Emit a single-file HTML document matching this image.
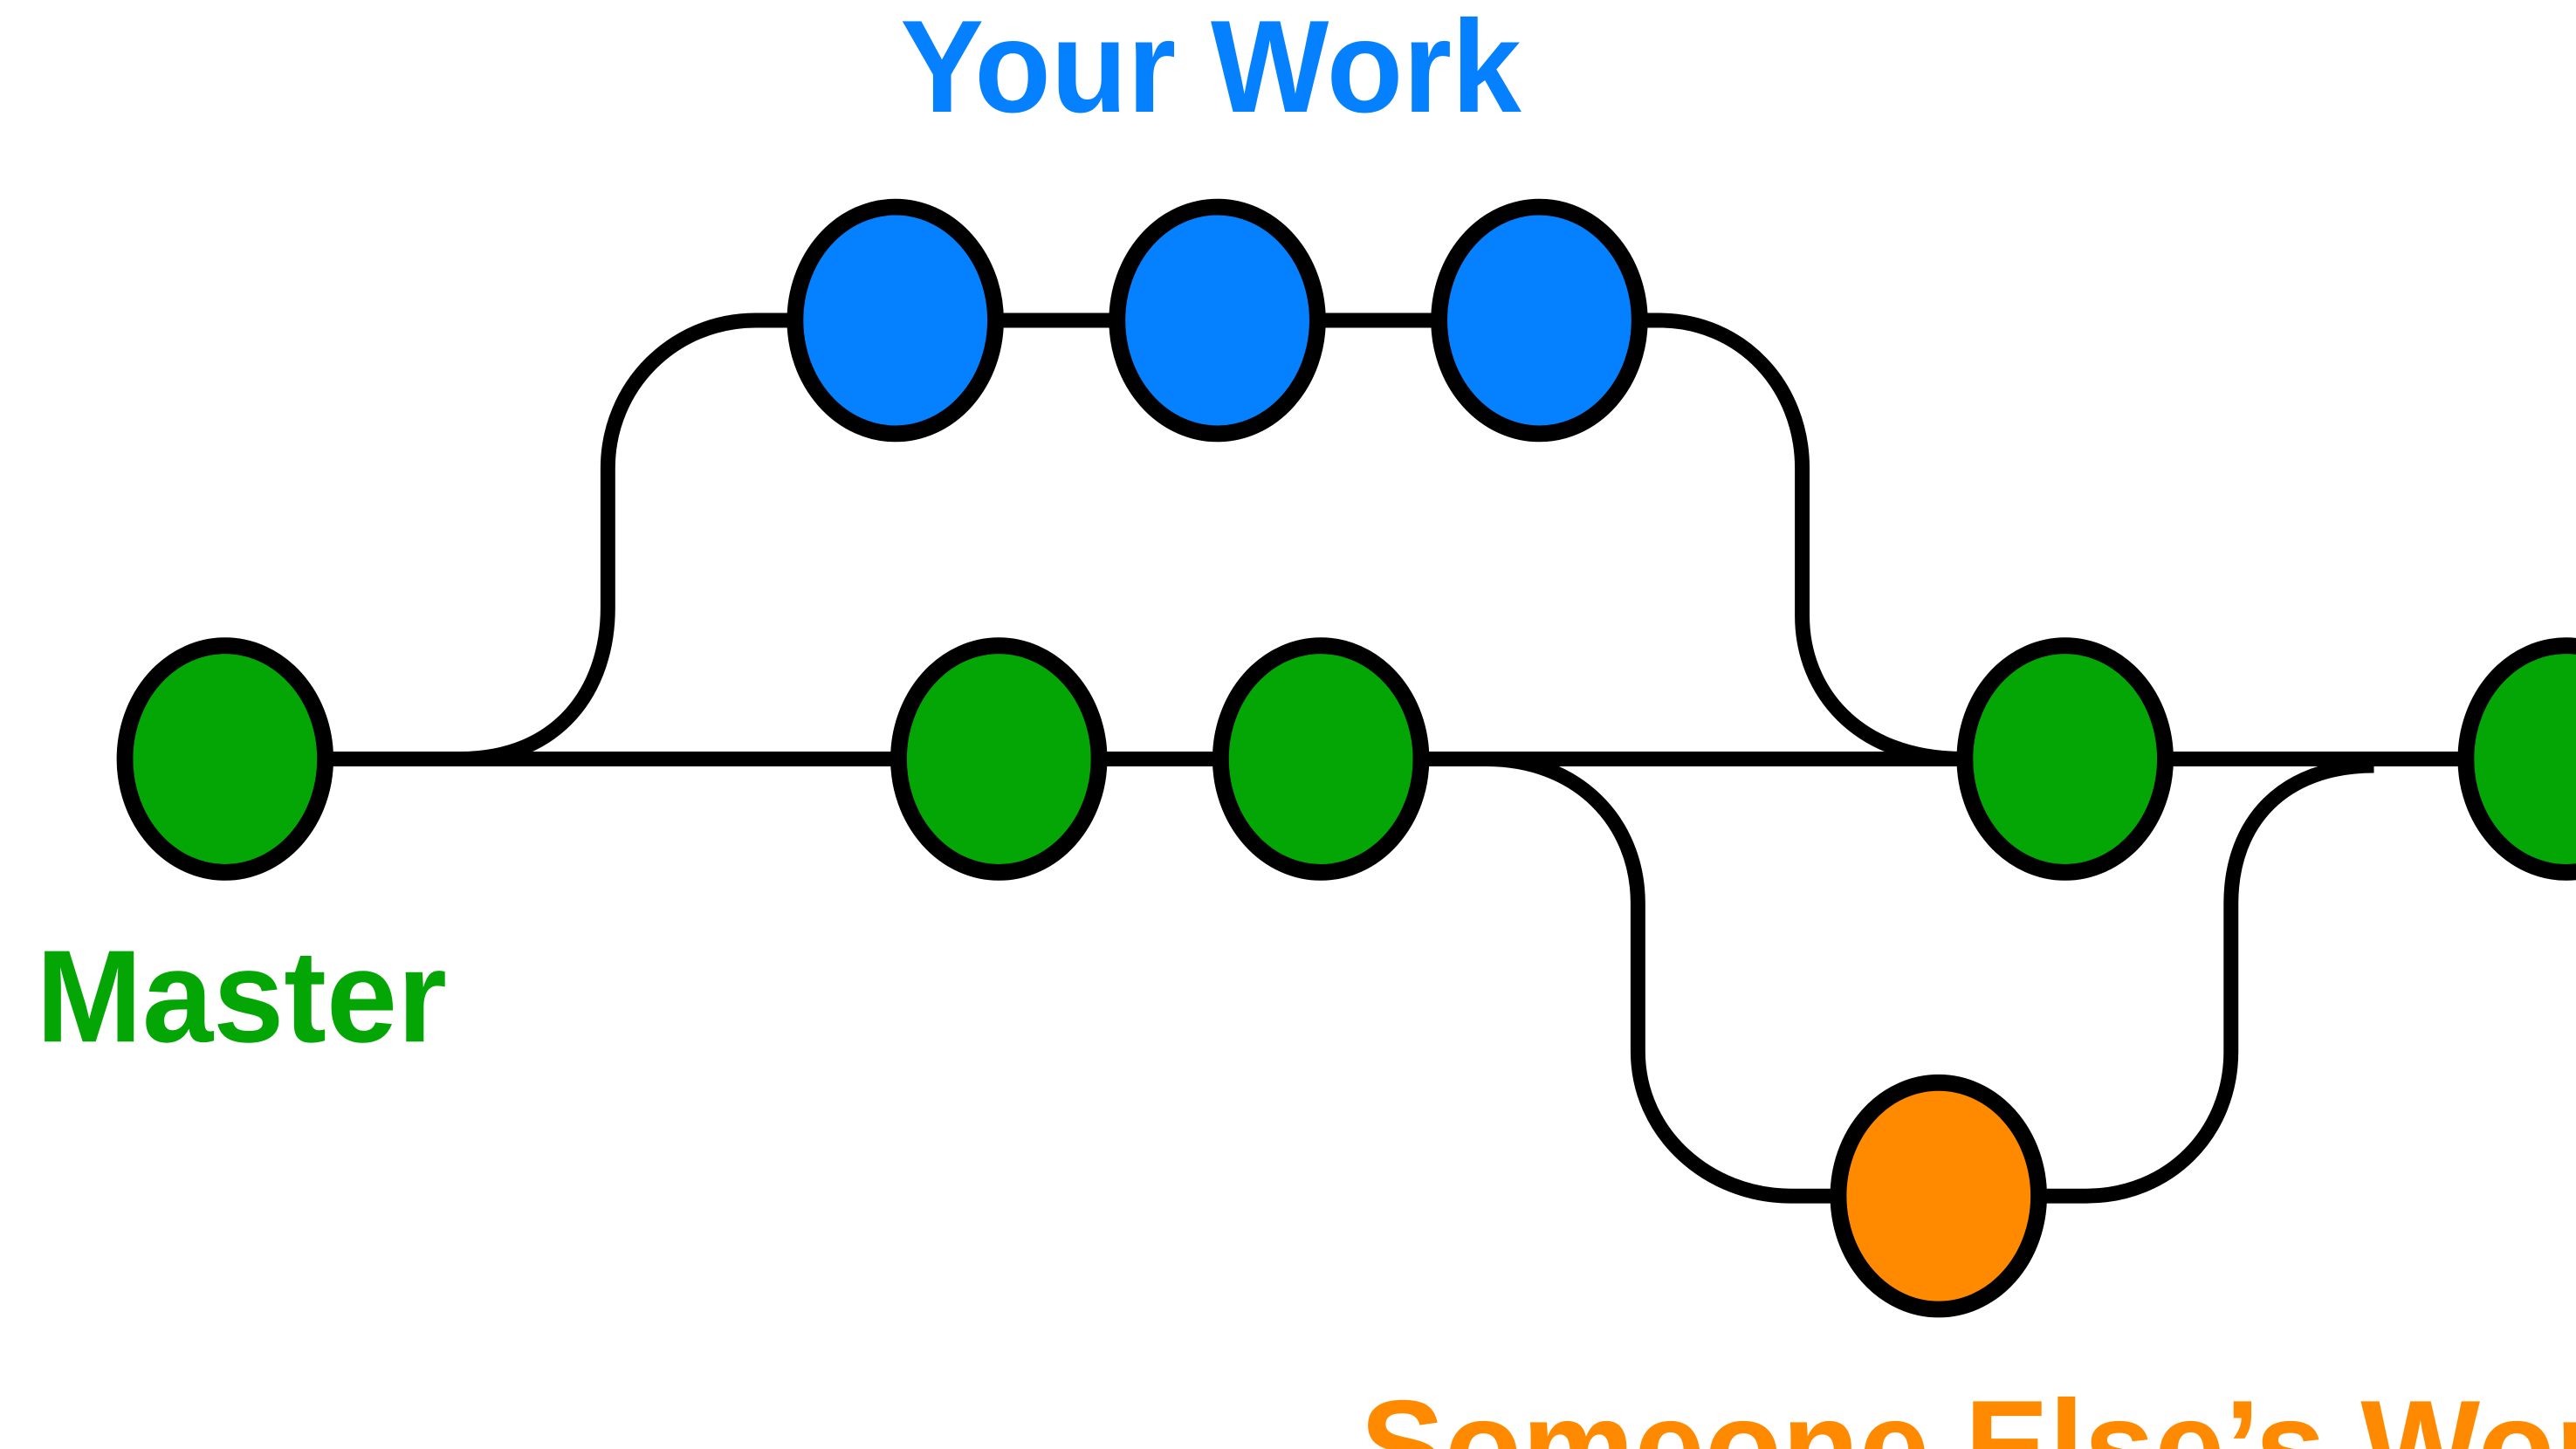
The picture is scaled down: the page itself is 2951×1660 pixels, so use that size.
<!DOCTYPE html>
<html><head><meta charset="utf-8"><style>
html,body{margin:0;padding:0;background:#fff;overflow:hidden}
svg{display:block}
</style></head><body>
<svg width="2951" height="1660" viewBox="0 0 1568 882" preserveAspectRatio="none" xmlns="http://www.w3.org/2000/svg">
<rect width="1568" height="882" fill="#fff"/>
<g fill="none" stroke="#000" stroke-width="9">
<path d="M137 462 H1568"/>
<path d="M280 462 C340 462 370 420 370 370 V285 C370 235 410 195 460 195 H1010 C1060 195 1097 235 1097 285 V375 C1097 420 1130 462 1195 462"/>
<path d="M905 462 C960 462 997 500 997 550 V640 C997 690 1040 728 1090 728 H1270 C1320 728 1358 690 1358 640 V550 C1358 500 1390 466 1445 466"/>
</g>
<g stroke="#000" stroke-width="10">
<ellipse cx="545" cy="195" rx="61" ry="69" fill="#0580fe"/>
<ellipse cx="741" cy="195" rx="61" ry="69" fill="#0580fe"/>
<ellipse cx="937" cy="195" rx="61" ry="69" fill="#0580fe"/>
<ellipse cx="137" cy="462" rx="61" ry="69" fill="#04a606"/>
<ellipse cx="608" cy="462" rx="61" ry="69" fill="#04a606"/>
<ellipse cx="804" cy="462" rx="61" ry="69" fill="#04a606"/>
<ellipse cx="1257" cy="462" rx="61" ry="69" fill="#04a606"/>
<ellipse cx="1562" cy="462" rx="61" ry="69" fill="#04a606"/>
<ellipse cx="1180" cy="728" rx="61" ry="69" fill="#ff8a00"/>
</g>
<g font-family="Liberation Sans, sans-serif" font-weight="bold">
<text x="548" y="68" font-size="80" fill="#0580fe" textLength="378" lengthAdjust="spacingAndGlyphs">Your Work</text>
<text x="22" y="634" font-size="80" fill="#04a606" textLength="250" lengthAdjust="spacingAndGlyphs">Master</text>
<text x="828" y="908" font-size="80" fill="#ff8a00" textLength="800" lengthAdjust="spacingAndGlyphs">Someone Else’s Work</text>
</g>
</svg>
</body></html>
